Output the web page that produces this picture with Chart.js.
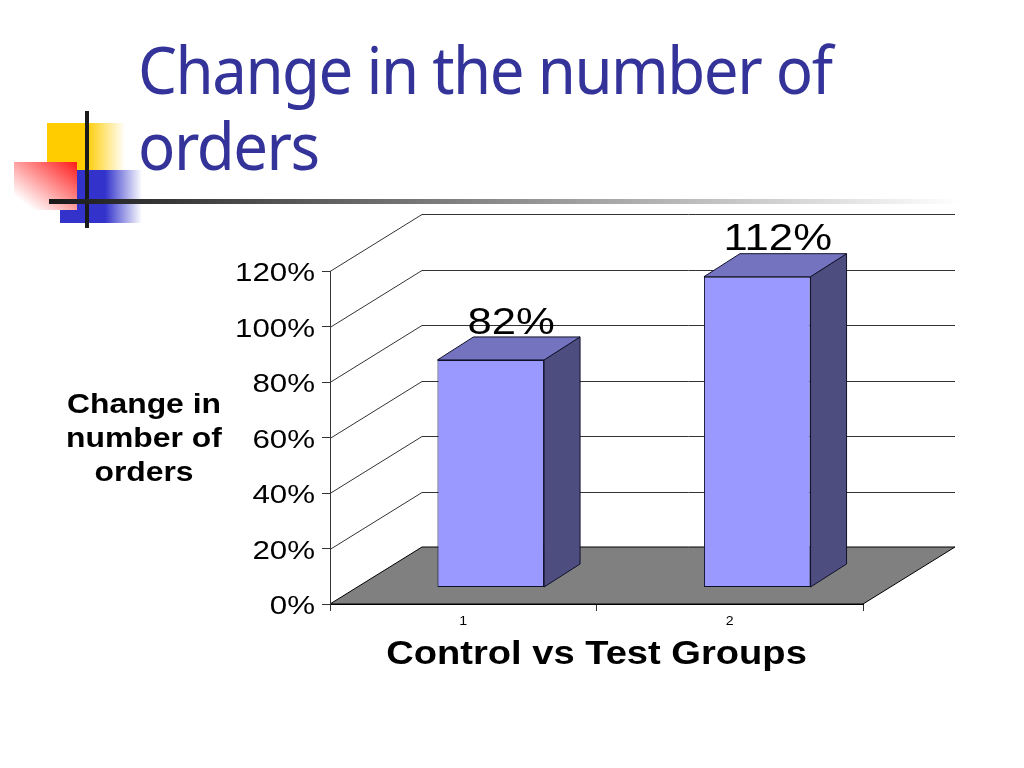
<!DOCTYPE html>
<html>
<head>
<meta charset="utf-8">
<title>Change in the number of orders</title>
<script src="https://cdn.jsdelivr.net/npm/chart.js@4"></script>
<style>
    html, body { margin: 0; padding: 0; background: #ffffff; }
    body { position: relative; width: 1024px; height: 768px; overflow: hidden; }
    #myChart { position: absolute; left: 0; top: 0; }
    .deco { position: absolute; }
    #yellow { left: 47px; top: 123px; width: 78px; height: 47px; background: linear-gradient(to right, #ffcc00 50%, #ffffff); }
    #blue { left: 60px; top: 170px; width: 82px; height: 53px; background: linear-gradient(to right, #3333cc 55%, #ffffff); }
    #red { left: 14px; top: 162px; width: 63px; height: 48px; background: linear-gradient(to bottom left, #ff1a1a, #ffffff 85%); }
    #vline { left: 85px; top: 111px; width: 4px; height: 117px; background: #1a1a1a; }
    #hline { left: 49px; top: 199px; width: 911px; height: 5px; background: linear-gradient(to right, #1a1a1a, #ffffff); }
    #title {
        position: absolute; left: 138px; top: 31px; margin: 0;
        font: normal 65px/76px "Noto Sans", sans-serif;
        letter-spacing: -1.55px;
        color: #333399; white-space: nowrap;
        transform: scaleX(0.95); transform-origin: left top;
    }
</style>
</head>
<body>
<canvas id="myChart" width="1024" height="768"></canvas>
<div class="deco" id="yellow"></div>
<div class="deco" id="blue"></div>
<div class="deco" id="red"></div>
<div class="deco" id="vline"></div>
<div class="deco" id="hline"></div>
<h1 id="title">Change in the number of<br>orders</h1>
<script>
const groupLabels = ['1', '2']
const changeValues = [82, 112]
const valueLabels = ['82%', '112%']
const percentTicks = [0, 20, 40, 60, 80, 100, 120]
const percentTickLabels = ['0%', '20%', '40%', '60%', '80%', '100%', '120%']
const yTitleLines = ['Change in', 'number of', 'orders']
const xTitle = 'Control vs Test Groups'

const wall = { dx: 92, dy: -57 }
const barShift = { dx: 27.5, dy: -16.5 }
const barDepth = { dx: 36, dy: -23 }
const textStretch = 1.18

// the reference text is stretched sideways, Liberation has no wide cut
function wideText(ctx, text, x, y, font, align) {
    ctx.save()
    ctx.translate(x, y)
    ctx.scale(textStretch, 1)
    ctx.font = font
    ctx.fillStyle = '#000000'
    ctx.textAlign = align
    ctx.textBaseline = 'middle'
    ctx.fillText(text, 0, 0)
    ctx.restore()
}

function face(ctx, points, fill, stroke) {
    ctx.beginPath()
    points.forEach((p, i) => i ? ctx.lineTo(p[0], p[1]) : ctx.moveTo(p[0], p[1]))
    ctx.closePath()
    ctx.fillStyle = fill
    ctx.fill()
    ctx.strokeStyle = stroke
    ctx.lineWidth = 1
    ctx.stroke()
}

const box3d = {
    id: 'box3d',
    beforeDraw(chart) {
        const ctx = chart.ctx
        const { left, right, bottom } = chart.chartArea
        const y = chart.scales.y
        ctx.save()
        face(ctx, [
            [left, bottom],
            [left + wall.dx, bottom + wall.dy],
            [right + wall.dx, bottom + wall.dy],
            [right, bottom]
        ], '#808080', '#000000')
        ctx.strokeStyle = '#333333'
        ctx.lineWidth = 1
        percentTicks.forEach(v => {
            if (v === 0) return
            const py = Math.round(y.getPixelForValue(v)) + 0.5
            ctx.beginPath()
            ctx.moveTo(left, py)
            ctx.lineTo(left + wall.dx, py + wall.dy)
            ctx.lineTo(right + wall.dx, py + wall.dy)
            ctx.stroke()
        })
        ctx.restore()
    },
    beforeDatasetsDraw(chart) {
        chart.ctx.save()
        chart.ctx.translate(barShift.dx, barShift.dy)
    },
    afterDatasetsDraw(chart) {
        const ctx = chart.ctx
        ctx.restore()
        chart.getDatasetMeta(0).data.forEach(bar => {
            const p = bar.getProps(['x', 'y', 'base', 'width'], true)
            const l = p.x - p.width / 2 + barShift.dx
            const r = p.x + p.width / 2 + barShift.dx
            const t = p.y + barShift.dy
            const b = p.base + barShift.dy
            face(ctx, [[r, t], [r + barDepth.dx, t + barDepth.dy], [r + barDepth.dx, b + barDepth.dy], [r, b]], '#4d4d80', '#10102a')
            face(ctx, [[l, t], [l + barDepth.dx, t + barDepth.dy], [r + barDepth.dx, t + barDepth.dy], [r, t]], '#7373bf', '#10102a')
        })
    },
    afterDraw(chart) {
        const ctx = chart.ctx
        const x = chart.scales.x
        const y = chart.scales.y

        percentTicks.forEach((v, i) => {
            wideText(ctx, percentTickLabels[i], 315, y.getPixelForValue(v) + 3, '26.5px "Liberation Sans"', 'right')
        })
        groupLabels.forEach((label, i) => {
            wideText(ctx, label, x.getPixelForValue(i), 621.5, '12px "Liberation Sans"', 'center')
        })
        chart.getDatasetMeta(0).data.forEach((bar, i) => {
            wideText(ctx, valueLabels[i], bar.x + barShift.dx + 20.5, bar.y + barShift.dy - 36.5, '37px "Liberation Sans"', 'center')
        })
        yTitleLines.forEach((line, i) => {
            wideText(ctx, line, 144, 406 + i * 34, 'bold 27px "Liberation Sans"', 'center')
        })
        wideText(ctx, xTitle, 596.5, 655, 'bold 32.3px "Liberation Sans"', 'center')
    }
}

new Chart(document.getElementById('myChart'), {
    type: 'bar',
    data: {
        labels: groupLabels,
        datasets: [{
            data: changeValues,
            backgroundColor: '#9999ff',
            borderColor: '#10102a',
            borderWidth: 1,
            borderSkipped: false,
            barPercentage: 0.4,
            categoryPercentage: 1,
            clip: false
        }]
    },
    options: {
        responsive: false,
        animation: false,
        layout: { padding: { top: 271, right: 161, left: 0, bottom: 0 } },
        plugins: {
            legend: { display: false },
            tooltip: { enabled: false }
        },
        scales: {
            x: {
                grid: { drawOnChartArea: false, tickLength: 7, color: '#333333' },
                border: { color: '#000000' },
                ticks: { display: false },
                afterFit: scale => { scale.height = 164 }
            },
            y: {
                min: 0,
                max: 120,
                grid: { drawOnChartArea: false, tickLength: 8, color: '#333333' },
                border: { color: '#333333' },
                ticks: { display: false, stepSize: 20 },
                afterFit: scale => { scale.width = 330 }
            }
        }
    },
    plugins: [box3d]
})
</script>
</body>
</html>
